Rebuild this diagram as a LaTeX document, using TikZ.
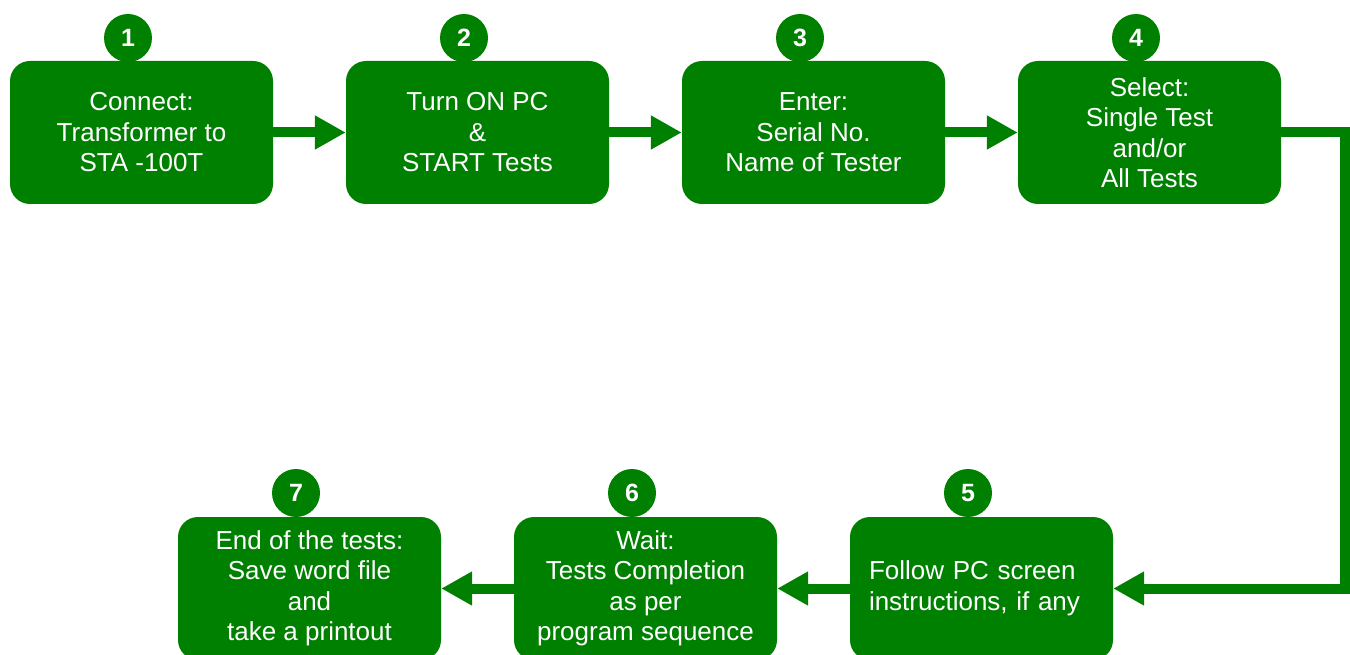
\documentclass[tikz,border=0pt]{standalone}
\usepackage{fontspec}
\setmainfont{Liberation Sans}
\usetikzlibrary{arrows.meta}
\definecolor{gr}{HTML}{008000}
\begin{document}
\begin{tikzpicture}[x=1pt,y=-1pt,
  stepbox/.style={fill=gr, draw=none, rounded corners=20pt, minimum width=263pt, minimum height=143pt,
    text=white, align=center, inner sep=0pt, font=\fontsize{26}{30.5}\selectfont},
  num/.style={circle, fill=gr, minimum size=48pt, inner sep=0pt, text=white, font=\fontsize{25}{25}\selectfont\bfseries},
  conn/.style={draw=gr, line width=10pt, -{Triangle[length=31pt,width=32pt]}}]
\useasboundingbox (0,0) rectangle (1350,655);
\node[stepbox] (b1) at (141.5,132.5) {Connect:\\Transformer to\\STA -100T};
\node[stepbox] (b2) at (477.5,132.5) {Turn ON PC\\\&\\START Tests};
\node[stepbox] (b3) at (813.5,132.5) {Enter:\\Serial No.\\Name of Tester};
\node[stepbox] (b4) at (1149.5,132.5) {Select:\\Single Test\\and/or\\All Tests};
\node[stepbox, text width=225pt, align=left] (b5) at (981.5,588.5) {Follow PC screen\\instructions, if any};
\node[stepbox] (b6) at (645.5,588.5) {Wait:\\Tests Completion\\as per\\program sequence};
\node[stepbox] (b7) at (309.5,588.5) {End of the tests:\\Save word file\\and\\take a printout};
\node[num] (n1) at (128,38) {1};
\node[num] (n2) at (464,38) {2};
\node[num] (n3) at (800,38) {3};
\node[num] (n4) at (1136,38) {4};
\node[num] (n5) at (968,493) {5};
\node[num] (n6) at (632,493) {6};
\node[num] (n7) at (296,493) {7};
\coordinate (c1) at (1345,132.5);
\coordinate (c2) at (1345,588.5);
\draw[conn] (b1) -- (b2);
\draw[conn] (b2) -- (b3);
\draw[conn] (b3) -- (b4);
\draw[conn] (b4.east) -- (c1) -- (c2) -- (b5.east);
\draw[conn] (b5) -- (b6);
\draw[conn] (b6) -- (b7);
\end{tikzpicture}
\end{document}
